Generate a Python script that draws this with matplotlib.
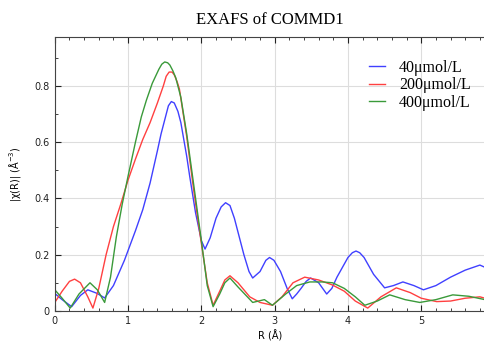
import matplotlib
matplotlib.use("Agg")
import matplotlib.pyplot as plt
from matplotlib.ticker import MultipleLocator

# |chi(R)|, R in Angstrom
r_40 = [0, 0.1, 0.23, 0.35, 0.45, 0.58, 0.68, 0.8, 0.95, 1.1, 1.2, 1.3, 1.4, 1.45, 1.5,
        1.55, 1.59, 1.63, 1.68, 1.72, 1.76, 1.8, 1.84, 1.92, 2.0, 2.05, 2.12, 2.2, 2.27,
        2.33, 2.39, 2.45, 2.58, 2.65, 2.70, 2.8, 2.88, 2.93, 2.99, 3.08, 3.17, 3.24, 3.3,
        3.36, 3.43, 3.49, 3.6, 3.71, 3.78, 3.85, 4.0, 4.06, 4.11, 4.16, 4.22, 4.35, 4.5,
        4.62, 4.75, 4.9, 5.03, 5.2, 5.4, 5.6, 5.8, 5.87]
chi_40 = [0.062, 0.04, 0.015, 0.055, 0.075, 0.062, 0.046, 0.09, 0.18, 0.285, 0.36, 0.455,
          0.57, 0.63, 0.68, 0.73, 0.745, 0.74, 0.71, 0.67, 0.61, 0.55, 0.48, 0.35, 0.25,
          0.22, 0.26, 0.33, 0.37, 0.385, 0.375, 0.33, 0.2, 0.14, 0.117, 0.14, 0.18, 0.19,
          0.18, 0.14, 0.08, 0.043, 0.06, 0.08, 0.105, 0.117, 0.1, 0.06, 0.08, 0.12, 0.19,
          0.207, 0.213, 0.207, 0.19, 0.13, 0.082, 0.09, 0.103, 0.09, 0.075, 0.09, 0.12,
          0.145, 0.163, 0.155]

r_200 = [0, 0.1, 0.2, 0.27, 0.35, 0.45, 0.52, 0.6, 0.7, 0.8, 0.9, 1.0, 1.1, 1.2, 1.3, 1.4,
         1.48, 1.52, 1.56, 1.6, 1.63, 1.67, 1.7, 1.8, 1.9, 2.0, 2.08, 2.16, 2.25, 2.32,
         2.39, 2.5, 2.66, 2.8, 2.97, 3.1, 3.25, 3.41, 3.6, 3.79, 3.95, 4.1, 4.27, 4.45,
         4.66, 4.85, 5.0, 5.21, 5.4, 5.6, 5.8, 5.87]
chi_200 = [0.03, 0.07, 0.105, 0.113, 0.1, 0.05, 0.01, 0.08, 0.2, 0.3, 0.38, 0.466, 0.54,
           0.61, 0.67, 0.74, 0.8, 0.835, 0.85, 0.85, 0.84, 0.815, 0.79, 0.62, 0.42, 0.24,
           0.1, 0.02, 0.07, 0.11, 0.125, 0.1, 0.05, 0.03, 0.02, 0.05, 0.1, 0.12, 0.11,
           0.092, 0.07, 0.035, 0.01, 0.05, 0.082, 0.065, 0.045, 0.033, 0.035, 0.045, 0.05,
           0.045]

r_400 = [0, 0.1, 0.21, 0.33, 0.48, 0.58, 0.68, 0.76, 0.84, 0.92, 1.0, 1.1, 1.18, 1.25, 1.33,
         1.42, 1.46, 1.5, 1.54, 1.57, 1.61, 1.65, 1.72, 1.8, 1.9, 2.0, 2.08, 2.16, 2.25,
         2.32, 2.39, 2.5, 2.7, 2.86, 2.97, 3.15, 3.3, 3.48, 3.65, 3.79, 3.95, 4.1, 4.23,
         4.4, 4.57, 4.78, 4.98, 5.2, 5.43, 5.65, 5.87]
chi_400 = [0.075, 0.045, 0.01, 0.06, 0.1, 0.075, 0.03, 0.12, 0.264, 0.38, 0.48, 0.6, 0.69,
           0.75, 0.81, 0.86, 0.878, 0.886, 0.883, 0.875, 0.855, 0.83, 0.76, 0.63, 0.44,
           0.25, 0.09, 0.015, 0.06, 0.1, 0.117, 0.085, 0.03, 0.04, 0.02, 0.06, 0.09,
           0.103, 0.103, 0.1, 0.08, 0.05, 0.02, 0.035, 0.057, 0.04, 0.03, 0.04, 0.057,
           0.052, 0.04]

labels = ["40\u03bcmol/L", "200\u03bcmol/L", "400\u03bcmol/L"]
colours = ["#4040ff", "#ff4040", "#3a9a3a"]

fig = plt.figure(figsize=(4.85, 3.42), dpi=100)
ax = fig.add_axes([0.113, 0.091, 0.887, 0.801])

for r, chi, lab, c in zip([r_40, r_200, r_400], [chi_40, chi_200, chi_400], labels, colours):
    ax.plot(r, chi, color=c, lw=1.0, label=lab)

ax.set_xlim(0, 5.87)
ax.set_ylim(0, 0.975)
ax.xaxis.set_major_locator(MultipleLocator(1))
ax.xaxis.set_minor_locator(MultipleLocator(0.2))
ax.yaxis.set_minor_locator(MultipleLocator(0.1))
ax.set_yticks([0, 0.2, 0.4, 0.6, 0.8])
ax.set_yticklabels(["0", "0.2", "0.4", "0.6", "0.8"])
ax.grid(True, which="major", color="#dddddd", lw=0.8)
ax.set_axisbelow(True)
ax.tick_params(which="both", direction="in", top=True, right=False, labelsize=7,
               colors="#222222")
ax.tick_params(which="major", length=4)
ax.tick_params(which="minor", length=2)
for s in ax.spines.values():
    s.set_color("#444444")

ax.set_title("EXAFS of COMMD1", family="Liberation Serif", fontsize=12, pad=9)
ax.set_xlabel("R (\u00c5)", fontsize=7, labelpad=3)
ax.set_ylabel("|\u03c7(R)| (\u00c5$^{-3}$)", fontsize=7, labelpad=8)

ax.legend(loc="upper right", bbox_to_anchor=(1.0, 0.97), frameon=False,
          handlelength=1.0, handletextpad=0.9, labelspacing=0.1,
          prop={"family": "Liberation Serif", "size": 11.5})

fig.savefig("out.png", dpi=100)
